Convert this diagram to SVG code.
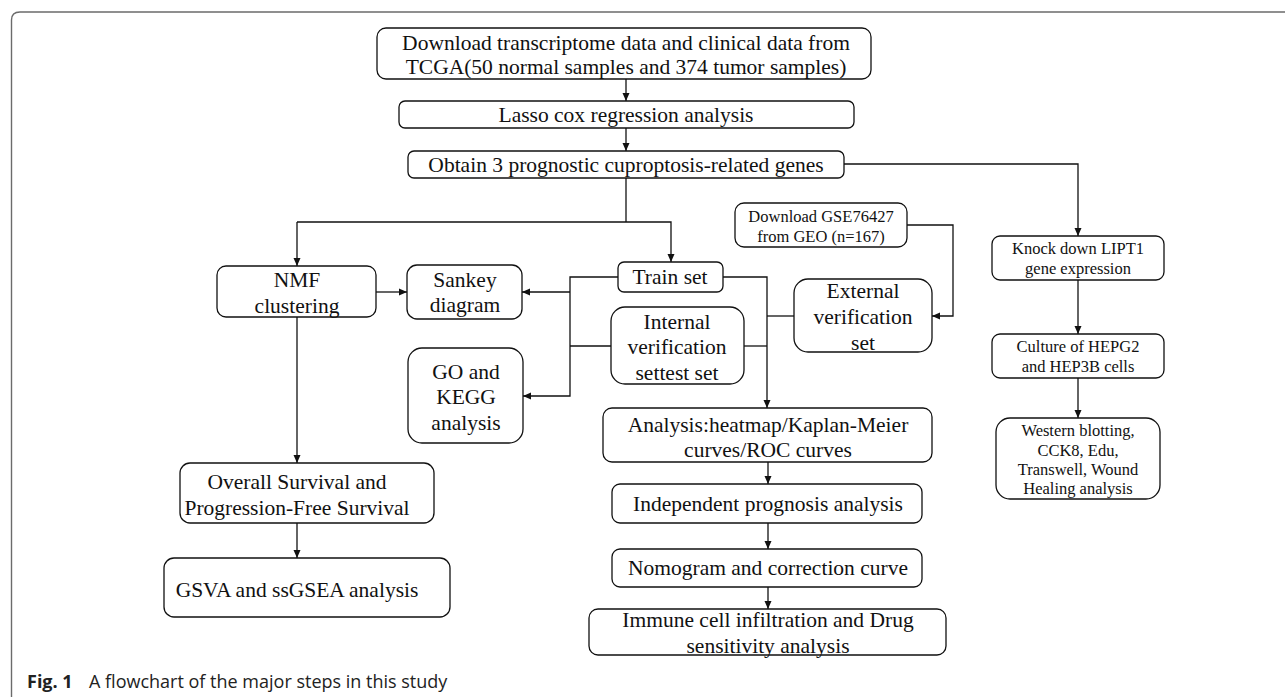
<svg xmlns="http://www.w3.org/2000/svg" width="1285" height="697" viewBox="0 0 1285 697">
<style>
.box{fill:#fff;stroke:#111;stroke-width:1.3}
.t{font-family:"Liberation Serif","Times New Roman",serif;font-size:21.5px;fill:#111;text-anchor:middle}
.s{font-family:"Liberation Serif","Times New Roman",serif;font-size:16.5px;fill:#111;text-anchor:middle}
.c{fill:none;stroke:#111;stroke-width:1.3}
.cap{font-family:"Open Sans","Noto Sans",sans-serif;font-size:18px;fill:#222}
</style>
<defs>
<marker id="ah" markerUnits="userSpaceOnUse" markerWidth="8" markerHeight="8" refX="8" refY="4" orient="auto">
<path d="M0,0.5 L8,4 L0,7.5 z" fill="#111"/>
</marker>
</defs>
<rect width="1285" height="697" fill="#fff"/>
<path d="M11.5,710 V20 Q11.5,12 20,12 H1290" fill="none" stroke="#6b6b6b" stroke-width="1.4"/>

<g id="connectors">
<path class="c" d="M626,79 V101" marker-end="url(#ah)"/>
<path class="c" d="M626,128 V151" marker-end="url(#ah)"/>
<path class="c" d="M844,164 H1078 V236" marker-end="url(#ah)"/>
<path class="c" d="M626,178 V222"/>
<path class="c" d="M297,222 V266" marker-end="url(#ah)"/>
<path class="c" d="M297,222 H671 V262" marker-end="url(#ah)"/>
<path class="c" d="M376,292 H407" marker-end="url(#ah)"/>
<path class="c" d="M618,277 H570 V396 H523" marker-end="url(#ah)"/>
<path class="c" d="M570,292 H522" marker-end="url(#ah)"/>
<path class="c" d="M570,346 H611"/>
<path class="c" d="M723,277 H767 V408" marker-end="url(#ah)"/>
<path class="c" d="M744,346 H767"/>
<path class="c" d="M767,316 H794"/>
<path class="c" d="M907,225 H953 V316 H932" marker-end="url(#ah)"/>
<path class="c" d="M1078,280 V334" marker-end="url(#ah)"/>
<path class="c" d="M1078,378 V418" marker-end="url(#ah)"/>
<path class="c" d="M297,317 V463" marker-end="url(#ah)"/>
<path class="c" d="M297,523 V558" marker-end="url(#ah)"/>
<path class="c" d="M768,462 V484" marker-end="url(#ah)"/>
<path class="c" d="M768,523 V549" marker-end="url(#ah)"/>
<path class="c" d="M768,587 V609" marker-end="url(#ah)"/>
</g>

<g id="download">
<rect class="box" x="377" y="28" width="494" height="51" rx="9"/>
<text class="t" x="626" y="50">Download transcriptome data and clinical data from</text>
<text class="t" x="626" y="74">TCGA(50 normal samples and 374 tumor samples)</text>
</g>
<g id="lasso">
<rect class="box" x="399" y="101" width="455" height="27" rx="6"/>
<text class="t" x="626" y="122">Lasso cox regression analysis</text>
</g>
<g id="obtain">
<rect class="box" x="408" y="151" width="436" height="27" rx="6"/>
<text class="t" x="626" y="172">Obtain 3 prognostic cuproptosis-related genes</text>
</g>
<g id="nmf">
<rect class="box" x="217" y="266" width="159" height="51" rx="9"/>
<text class="t" x="297" y="287">NMF</text>
<text class="t" x="297" y="313">clustering</text>
</g>
<g id="sankey">
<rect class="box" x="407" y="265" width="115" height="54" rx="10"/>
<text class="t" x="465" y="287">Sankey</text>
<text class="t" x="465" y="312">diagram</text>
</g>
<g id="go">
<rect class="box" x="408" y="348" width="115" height="95" rx="14"/>
<text class="t" x="466" y="379">GO and</text>
<text class="t" x="466" y="404">KEGG</text>
<text class="t" x="466" y="430">analysis</text>
</g>
<g id="train">
<rect class="box" x="618" y="262" width="105" height="30" rx="6"/>
<text class="t" x="670" y="284">Train set</text>
</g>
<g id="internal">
<rect class="box" x="611" y="307" width="133" height="77" rx="14"/>
<text class="t" x="677" y="329">Internal</text>
<text class="t" x="677" y="354">verification</text>
<text class="t" x="677" y="380">settest set</text>
</g>
<g id="gse">
<rect class="box" x="735" y="203" width="172" height="44" rx="9"/>
<text class="s" x="821" y="222">Download GSE76427</text>
<text class="s" x="821" y="242">from GEO (n=167)</text>
</g>
<g id="external">
<rect class="box" x="794" y="279" width="138" height="73" rx="14"/>
<text class="t" x="863" y="298">External</text>
<text class="t" x="863" y="324">verification</text>
<text class="t" x="863" y="350">set</text>
</g>
<g id="analysis">
<rect class="box" x="603" y="408" width="329" height="54" rx="9"/>
<text class="t" x="768" y="432">Analysis:heatmap/Kaplan-Meier</text>
<text class="t" x="768" y="457">curves/ROC curves</text>
</g>
<g id="independent">
<rect class="box" x="612" y="484" width="310" height="39" rx="8"/>
<text class="t" x="768" y="511">Independent prognosis analysis</text>
</g>
<g id="nomogram">
<rect class="box" x="612" y="549" width="310" height="38" rx="8"/>
<text class="t" x="768" y="575">Nomogram and correction curve</text>
</g>
<g id="immune">
<rect class="box" x="589" y="609" width="357" height="46" rx="9"/>
<text class="t" x="768" y="627">Immune cell infiltration and Drug</text>
<text class="t" x="768" y="653">sensitivity analysis</text>
</g>
<g id="overall">
<rect class="box" x="180" y="463" width="254" height="60" rx="10"/>
<text class="t" x="297" y="489">Overall Survival and</text>
<text class="t" x="297" y="515">Progression-Free Survival</text>
</g>
<g id="gsva">
<rect class="box" x="164" y="558" width="286" height="59" rx="10"/>
<text class="t" x="297" y="597">GSVA and ssGSEA analysis</text>
</g>
<g id="knock">
<rect class="box" x="992" y="236" width="172" height="44" rx="8"/>
<text class="s" x="1078" y="254">Knock down LIPT1</text>
<text class="s" x="1078" y="274">gene expression</text>
</g>
<g id="culture">
<rect class="box" x="992" y="334" width="172" height="44" rx="8"/>
<text class="s" x="1078" y="352">Culture of HEPG2</text>
<text class="s" x="1078" y="372">and HEP3B cells</text>
</g>
<g id="western">
<rect class="box" x="996" y="418" width="164" height="81" rx="14"/>
<text class="s" x="1078" y="436">Western blotting,</text>
<text class="s" x="1078" y="456">CCK8, Edu,</text>
<text class="s" x="1078" y="475">Transwell, Wound</text>
<text class="s" x="1078" y="494">Healing analysis</text>
</g>
<g id="caption">
<text class="cap" x="27" y="688"><tspan font-weight="bold">Fig. 1</tspan><tspan x="89">A flowchart of the major steps in this study</tspan></text>
</g>
</svg>
